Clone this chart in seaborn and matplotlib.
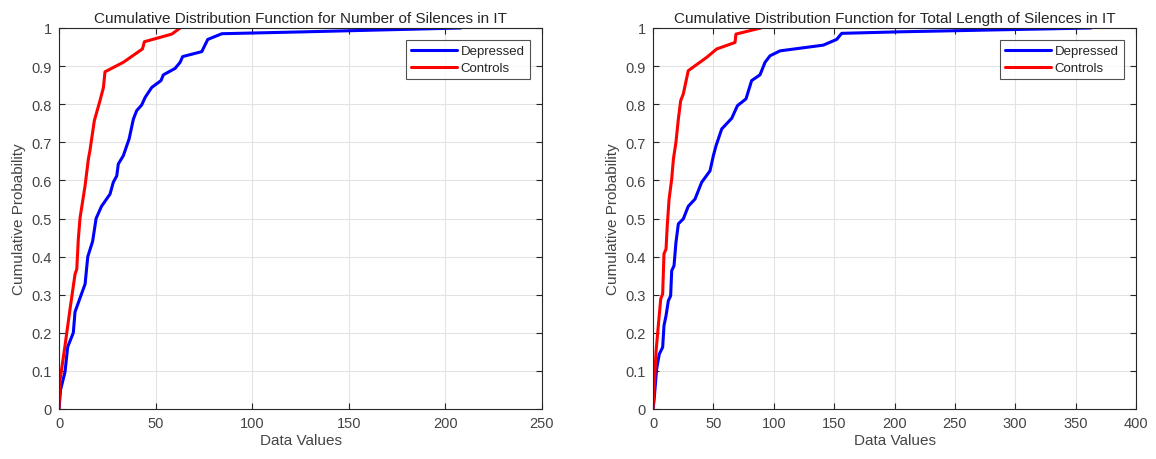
import matplotlib
matplotlib.use("Agg")
import matplotlib.pyplot as plt
import seaborn as sns
import pandas as pd

# Left panel: Number of Silences in IT
num_dep_x = [0, 0.8, 3.1, 4.5, 7.4, 8.3, 13.5, 14.9, 17.4, 19.2, 22, 26.4, 28.1, 29.9, 30.7,
             33.3, 36.3, 38.5, 40.2, 42.8, 44.6, 48, 52.8, 54, 60.1, 62.7, 64, 73.9, 77,
             84.3, 127.5, 208]
num_dep_y = [0, 0.05, 0.097, 0.163, 0.2, 0.255, 0.328, 0.40, 0.44, 0.50, 0.532, 0.564, 0.595,
             0.612, 0.643, 0.665, 0.709, 0.761, 0.783, 0.798, 0.818, 0.844, 0.862, 0.877,
             0.894, 0.91, 0.925, 0.938, 0.97, 0.985, 0.99, 1.0]
num_ctl_x = [0, 0.5, 3.1, 5.7, 8.3, 9.2, 10, 10.9, 13.5, 15.2, 16, 18.3, 21.2, 23, 23.8,
             33.3, 43.2, 44.2, 58.4, 62.7]
num_ctl_y = [0, 0.074, 0.166, 0.262, 0.354, 0.367, 0.446, 0.502, 0.586, 0.656, 0.678, 0.757,
             0.809, 0.844, 0.885, 0.91, 0.945, 0.964, 0.984, 1.0]

# Right panel: Total Length of Silences in IT
len_dep_x = [0, 0.8, 3, 5.2, 8, 9.1, 10.8, 12.7, 14.6, 15.5, 17.4, 19, 21, 25.1, 29.2, 34.8,
             40.3, 47.2, 50, 52.2, 56.9, 65.2, 69.9, 77, 81.7, 88.6, 92.8, 96.9, 105.2, 141,
             152.1, 156.3, 204.6, 362.7]
len_dep_y = [0, 0.02, 0.105, 0.144, 0.162, 0.219, 0.245, 0.284, 0.297, 0.363, 0.376, 0.437,
             0.486, 0.499, 0.532, 0.551, 0.595, 0.625, 0.665, 0.691, 0.735, 0.763, 0.796,
             0.814, 0.862, 0.877, 0.91, 0.927, 0.94, 0.955, 0.97, 0.986, 0.99, 1.0]
len_ctl_x = [0, 0.8, 2.5, 4.4, 6.4, 8, 9.1, 10.8, 11.8, 13.3, 15.5, 16.9, 19, 21, 22.9, 25.1,
             29.2, 44.5, 52.8, 67.9, 68.7, 89.2]
len_ctl_y = [0, 0.045, 0.15, 0.219, 0.289, 0.302, 0.407, 0.42, 0.481, 0.55, 0.604, 0.656, 0.7,
             0.761, 0.809, 0.827, 0.888, 0.923, 0.945, 0.962, 0.984, 1.0]

groups = ["Depressed", "Controls"]
colors = {"Depressed": "#0000ff", "Controls": "#ff0000"}
titles = ["Cumulative Distribution Function for Number of Silences in IT",
          "Cumulative Distribution Function for Total Length of Silences in IT"]
xmax = [250, 400]
xstep = [50, 50]


def make_df(dx, dy, cx, cy):
    rows = []
    for i, (x, y) in enumerate(zip(dx, dy)):
        rows.append({"x": x, "y": y, "group": "Depressed", "order": i})
    for i, (x, y) in enumerate(zip(cx, cy)):
        rows.append({"x": x, "y": y, "group": "Controls", "order": i})
    return pd.DataFrame(rows)


dfs = [make_df(num_dep_x, num_dep_y, num_ctl_x, num_ctl_y),
       make_df(len_dep_x, len_dep_y, len_ctl_x, len_ctl_y)]

sns.set_theme(style="white")
plt.rcParams["font.family"] = ["Liberation Sans", "DejaVu Sans"]
txt = "#262626"
lbl = "#444444"

fig = plt.figure(figsize=(11.56, 4.6), dpi=100)
positions = [[59 / 1156, 50 / 460, 483 / 1156, 381 / 460],
             [653 / 1156, 50 / 460, 483 / 1156, 381 / 460]]

for k in range(2):
    ax = fig.add_axes(positions[k])
    sns.lineplot(data=dfs[k], x="x", y="y", hue="group", hue_order=groups, palette=colors,
                 estimator=None, sort=False, units="group", linewidth=2.2, ax=ax)
    ax.set_xlim(0, xmax[k])
    ax.set_ylim(0, 1)
    ax.set_xticks(list(range(0, xmax[k] + 1, xstep[k])))
    ax.set_yticks([i / 10 for i in range(11)])
    ax.set_yticklabels(["0"] + [f"{i/10:.1f}" for i in range(1, 10)] + ["1"])
    ax.grid(True, color="#e3e3e3", linewidth=0.8)
    ax.set_axisbelow(True)
    ax.tick_params(direction="in", length=4, width=0.8, color=txt, labelcolor=lbl,
                   labelsize=10.5, top=True, right=True, bottom=True, left=True, pad=5)
    for sp in ax.spines.values():
        sp.set_color(txt)
        sp.set_linewidth(0.8)
    ax.set_xlabel("Data Values", fontsize=11, color=lbl, labelpad=2)
    ax.set_ylabel("Cumulative Probability", fontsize=11, color=lbl, labelpad=4)
    ax.set_title(titles[k], fontsize=11, color=txt, pad=4)
    leg = ax.legend(loc="upper right", bbox_to_anchor=(0.975, 0.969), fontsize=9.5,
                    frameon=True, fancybox=False, edgecolor=txt, handlelength=3.5,
                    borderpad=0.4, labelspacing=0.35, handletextpad=0.25, borderaxespad=0)
    leg.get_frame().set_linewidth(0.8)
    for line in leg.get_lines():
        line.set_linewidth(2.2)

fig.savefig("out.png", dpi=100)
